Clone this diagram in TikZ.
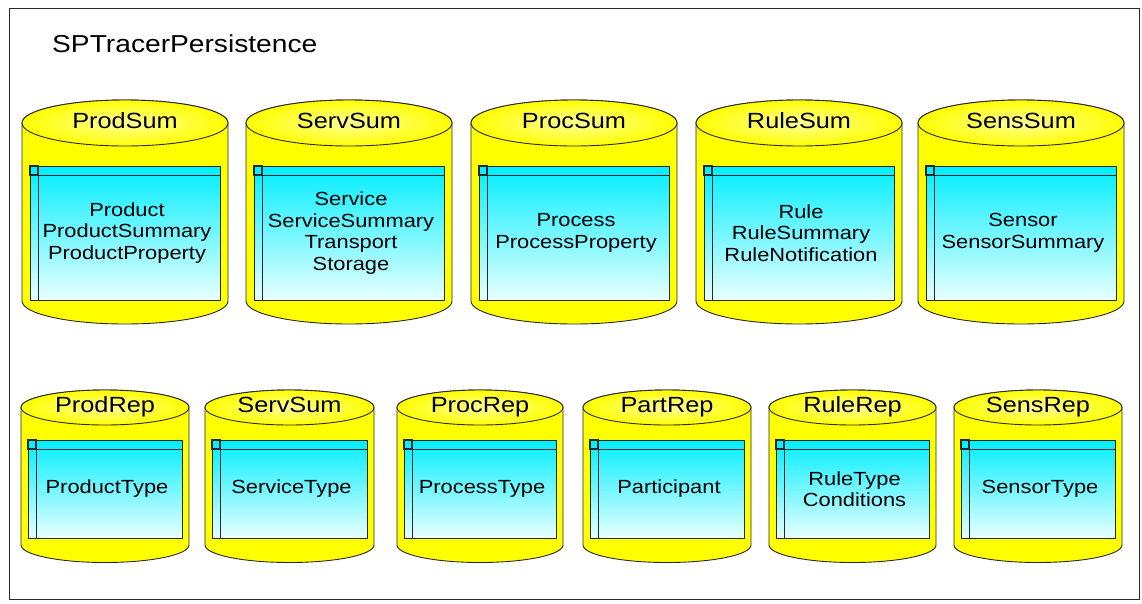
\documentclass[tikz,border=0pt]{standalone}
\usepackage{fontspec}
\setmainfont{Liberation Sans}[FakeStretch=1.15]
\usetikzlibrary{calc}

\definecolor{dbyellow}{RGB}{255,255,0}
\definecolor{dbyellowhi}{RGB}{255,255,150}
\definecolor{tabtop}{RGB}{0,238,255}
\definecolor{tabbot}{RGB}{232,255,255}
\definecolor{inkline}{RGB}{40,40,40}

\tikzset{
  frameline/.style={draw=inkline, line width=1pt},
  cylbody/.style={fill=dbyellow, draw=inkline, line width=0.9pt},
  cyltop/.style={inner color=dbyellowhi, outer color=dbyellow, draw=inkline, line width=0.9pt},
  tabfill/.style={top color=tabtop, bottom color=tabbot},
  tabline/.style={draw=inkline, line width=0.9pt},
  tabcorner/.style={draw=inkline, line width=1.5pt},
  cyllabel/.style={anchor=base, inner sep=0pt, font=\fontsize{22}{26}\selectfont},
  tabtext/.style={align=center, inner sep=0pt, font=\fontsize{19}{21.5}\selectfont},
  titletext/.style={anchor=base west, inner sep=0pt, font=\fontsize{24.5}{29}\selectfont}
}

% Row geometry: top-ellipse centre, bottom-ellipse centre, ellipse y radius,
% table top, table bottom, table inset
\newcommand{\rowgeom}[6]{%
  \def\cT{#1}\def\cB{#2}\def\cR{#3}\def\tT{#4}\def\tB{#5}\def\tI{#6}}

% A database cylinder holding a table: name, left x, width, label, contents
\newcommand{\dbcyl}[5]{%
  \pgfmathsetmacro{\rx}{#3/2}
  \pgfmathsetmacro{\cx}{#2+#3/2}
  \pgfmathsetmacro{\rgt}{#2+#3}
  \pgfmathsetmacro{\tl}{#2+\tI}
  \pgfmathsetmacro{\tr}{#2+#3-\tI}
  \pgfmathsetmacro{\tm}{(\tT+\tB)/2}
  \path[cylbody] (#2,-\cT) -- (#2,-\cB)
    arc[start angle=180, end angle=360, x radius=\rx, y radius=\cR]
    -- (\rgt,-\cT)
    arc[start angle=0, end angle=180, x radius=\rx, y radius=\cR] -- cycle;
  \path[cyltop] (\cx,-\cT) ellipse[x radius=\rx, y radius=\cR];
  \path[tabfill] (\tl,-\tT) rectangle (\tr,-\tB);
  \draw[tabline] (\tl,-\tT) rectangle (\tr,-\tB);
  \draw[tabline] (\tl,-\tT-9) -- (\tr,-\tT-9);
  \draw[tabline] (\tl+8,-\tT) -- (\tl+8,-\tB);
  \draw[tabcorner] (\tl,-\tT) rectangle (\tl+8,-\tT-9);
  \node[cyllabel] (#1-label) at (\cx,-\cT-5) {#4};
  \node[tabtext] (#1-table) at (\cx+2,-\tm) {#5};
}

\begin{document}
\begin{tikzpicture}[x=1pt, y=1pt]
  \useasboundingbox (0,0) rectangle (1142,-603);
  \fill[white] (0,0) rectangle (1142,-603);
  \draw[frameline] (9.5,-8.5) rectangle (1139,-599);

  \node[titletext] (title) at (52,-52) {SPTracerPersistence};

  % summary stores
  \rowgeom{123}{301}{23}{166}{300}{8}
  \dbcyl{prodsum}{22}{206}{ProdSum}{Product\\ProductSummary\\ProductProperty}
  \dbcyl{servsum}{246}{206}{ServSum}{Service\\ServiceSummary\\Transport\\Storage}
  \dbcyl{procsum}{471}{206}{ProcSum}{Process\\ProcessProperty}
  \dbcyl{rulesum}{696}{206}{RuleSum}{Rule\\RuleSummary\\RuleNotification}
  \dbcyl{senssum}{918}{206}{SensSum}{Sensor\\SensorSummary}

  % repositories
  \rowgeom{407.5}{545}{17.5}{440}{538}{7}
  \dbcyl{prodrep}{21}{168}{ProdRep}{ProductType}
  \dbcyl{servrep}{205}{169}{ServSum}{ServiceType}
  \dbcyl{procrep}{397}{166}{ProcRep}{ProcessType}
  \dbcyl{partrep}{583}{168}{PartRep}{Participant}
  \dbcyl{rulerep}{769}{167}{RuleRep}{RuleType\\Conditions}
  \dbcyl{sensrep}{954}{168}{SensRep}{SensorType}
\end{tikzpicture}
\end{document}
